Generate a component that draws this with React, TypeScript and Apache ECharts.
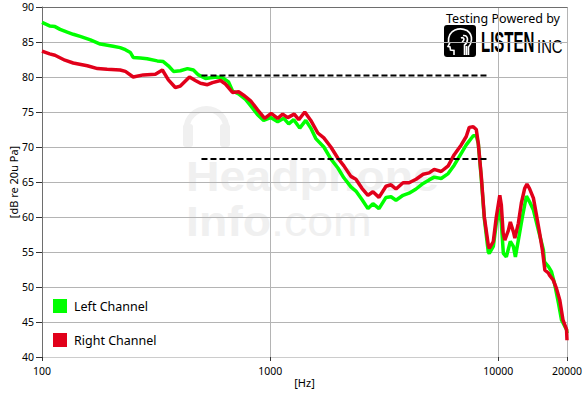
import React, { useEffect, useRef } from "react";
import * as echarts from "echarts";

// ---- data (Hz, dB) ----
const leftFreq = [100, 108, 114, 120, 129, 137, 147, 163, 180, 205, 220, 232, 244, 251, 270, 289, 320, 340, 358, 377, 404, 434, 461, 485, 521, 548, 582, 618, 657, 684, 727, 780, 821, 881, 936, 1005, 1079, 1147, 1206, 1269, 1348, 1432, 1507, 1585, 1719, 1845, 1981, 2104, 2259, 2376, 2525, 2683, 2822, 2999, 3219, 3386, 3561, 3823, 4062, 4361, 4682, 4975, 5233, 5617, 6030, 6407, 6878, 7235, 7766, 8006, 8170, 8422, 8682, 9036, 9128, 9507, 9800, 10080, 10310, 10520, 10840, 11290, 11640, 11880, 12240, 12750, 13280, 13690, 14250, 14990, 15760, 15930, 16590, 17100, 17630, 18350, 18920, 19910, 20000];
const leftDb = [87.8, 87.3, 87.2, 86.8, 86.4, 86.1, 85.8, 85.3, 84.7, 84.4, 84.2, 83.9, 83.5, 82.8, 82.7, 82.6, 82.3, 82.2, 81.6, 80.8, 80.9, 81.2, 81.0, 80.3, 79.8, 79.9, 80.0, 79.9, 79.3, 78.0, 77.6, 76.8, 75.9, 74.6, 73.8, 74.2, 73.6, 74.1, 73.3, 73.9, 72.7, 73.8, 72.7, 71.2, 70.0, 68.3, 67.0, 65.6, 64.3, 63.7, 62.5, 61.2, 61.9, 61.2, 62.8, 62.9, 62.4, 63.1, 63.4, 64.0, 64.8, 65.3, 65.7, 65.5, 66.2, 67.4, 69.1, 70.3, 71.6, 71.6, 70.5, 65.5, 59.8, 55.0, 54.8, 55.8, 59.1, 61.2, 59.1, 54.8, 54.3, 56.5, 55.8, 54.3, 56.7, 60.0, 63.0, 62.2, 61.0, 58.1, 55.3, 53.6, 52.9, 52.2, 50.5, 47.7, 45.3, 43.9, 43.4];

const rightFreq = [100, 108, 114, 126, 137, 158, 175, 193, 220, 232, 251, 278, 314, 337, 358, 384, 404, 443, 470, 495, 531, 559, 606, 637, 684, 727, 765, 821, 881, 946, 1010, 1079, 1135, 1194, 1275, 1335, 1418, 1507, 1618, 1719, 1845, 1981, 2104, 2259, 2376, 2525, 2683, 2822, 2999, 3219, 3386, 3561, 3823, 4062, 4361, 4682, 4975, 5233, 5617, 6030, 6407, 6878, 7235, 7458, 7766, 8006, 8170, 8422, 8682, 9036, 9128, 9507, 9800, 10150, 10310, 10500, 10680, 11070, 11290, 11640, 11820, 12240, 12620, 13050, 13350, 13690, 14250, 14690, 15100, 15600, 16000, 16570, 16760, 17400, 17980, 18600, 19200, 19910, 20000];
const rightDb = [83.7, 83.3, 83.1, 82.4, 82.0, 81.6, 81.2, 81.1, 81.0, 80.8, 80.0, 80.3, 80.4, 81.0, 79.6, 78.5, 78.7, 80.0, 79.5, 79.1, 78.9, 79.2, 79.5, 79.0, 77.8, 77.9, 77.4, 76.6, 75.3, 74.1, 74.8, 74.1, 74.7, 74.2, 74.7, 73.9, 75.0, 73.8, 72.0, 71.3, 70.0, 68.4, 67.3, 65.8, 65.4, 64.1, 63.1, 63.6, 62.8, 64.4, 64.6, 64.0, 64.9, 64.9, 65.4, 66.1, 66.3, 66.8, 66.5, 67.3, 68.9, 70.3, 71.5, 72.8, 72.9, 72.5, 70.5, 65.8, 60.0, 56.0, 55.5, 56.5, 60.0, 63.1, 61.7, 57.7, 56.7, 58.1, 59.3, 57.9, 57.0, 59.1, 62.0, 64.1, 64.7, 64.1, 62.7, 60.3, 58.1, 55.3, 52.4, 52.0, 51.7, 51.0, 49.8, 48.1, 45.3, 43.9, 42.4];

const refFreq = [500, 9000];
const refUpperDb = 80.2;
const refLowerDb = 68.3;

const seriesNames = ["Left Channel", "Right Channel"];
const seriesColors = ["#00ff00", "#e1001a"];

const yMin = 40;
const yMax = 90;
const yInterval = 5;
const xMin = 100;
const xMax = 20000;

const headPath =
  "M10 30 L10 25.5 L6.5 25 L6 22 L4 21.5 L5.5 18.5 L4.5 17 Q4 8 11 5 Q17 2.5 23 5.5 Q28 9 27.5 15 Q27 19 24.5 22 L24.5 30 M19 10.5 Q23 10 23.5 14 Q23.5 18 20.5 20 L20.5 30 M22.5 21 L22.5 30 M17 13 Q19 12 20 14 Q20 16 18 17";

let registered = false;
function registerShapes() {
  if (registered) return;
  registered = true;
  echarts.graphic.registerShape("listenHead", echarts.graphic.extendPath(headPath, {}) as any);
}

const zip = (xs: number[], ys: number[]) => xs.map((x, i) => [x, ys[i]]);

export default function App() {
  const ref = useRef<HTMLDivElement>(null);
  useEffect(() => {
    if (!ref.current) return;
    registerShapes();
    const chart = echarts.init(ref.current, undefined, { renderer: "svg" });
    const font = "Noto Sans";
    const wm = "#f0f0f0";
    chart.setOption({
      animation: false,
      backgroundColor: "#ffffff",
      textStyle: { fontFamily: font },
      grid: { left: 42, right: 16, top: 7, bottom: 38, containLabel: false, outerBoundsMode: "none" },
      legend: {
        data: seriesNames,
        orient: "vertical",
        left: 53,
        top: 299,
        padding: 0,
        itemWidth: 14,
        itemHeight: 14,
        itemGap: 20,
        icon: "rect",
        textStyle: { fontSize: 12.5, color: "#000", fontFamily: font, padding: [0, 0, 0, 2] },
      },
      xAxis: [
        {
          type: "log",
          logBase: 10,
          min: xMin,
          max: xMax,
          name: "[Hz]",
          nameLocation: "middle",
          nameGap: 20,
          nameMoveOverlap: false,
          nameTextStyle: { fontSize: 11, color: "#000", fontFamily: font },
          axisLine: { lineStyle: { color: "#cccccc", width: 1 } },
          axisTick: { show: true, length: 4, lineStyle: { color: "#333" } },
          minorTick: { show: false },
          axisLabel: {
            fontSize: 10.5,
            color: "#000",
            margin: 8,
            formatter: (v: number) => String(Math.round(v)),
          },
          splitLine: { show: true, lineStyle: { color: "#b4b4b4", width: 1 } },
        },
        {
          type: "log",
          logBase: 10,
          min: xMin,
          max: xMax,
          position: "top",
          axisLine: { show: true, lineStyle: { color: "#6e6e6e", width: 1 } },
          axisTick: { show: false },
          axisLabel: { show: false },
          splitLine: { show: false },
        },
      ],
      yAxis: {
        type: "value",
        min: yMin,
        max: yMax,
        interval: yInterval,
        name: "[dB re 20u Pa]",
        nameLocation: "middle",
        nameGap: 23,
        nameMoveOverlap: false,
        nameRotate: 90,
        nameTextStyle: { fontSize: 11, color: "#000", fontFamily: font },
        axisLine: { show: true, lineStyle: { color: "#6e6e6e", width: 1 } },
        axisTick: { show: true, length: 6, lineStyle: { color: "#333" } },
        axisLabel: { fontSize: 10.5, color: "#000", margin: 8 },
        splitLine: { show: true, lineStyle: { color: "#b4b4b4", width: 1 } },
      },
      graphic: [
        // watermark
        {
          type: "arc",
          z: -10,
          shape: { cx: 206.5, cy: 129, r: 20, startAngle: Math.PI, endAngle: Math.PI * 2 },
          style: { stroke: wm, lineWidth: 6, fill: "none" },
        },
        { type: "rect", z: -10, shape: { x: 183, y: 124, width: 10, height: 23, r: 3 }, style: { fill: wm } },
        { type: "rect", z: -10, shape: { x: 220, y: 124, width: 10, height: 23, r: 3 }, style: { fill: wm } },
        {
          type: "text",
          z: -10,
          x: 186,
          y: 153,
          scaleX: 1.08,
          style: {
            text: "{b|Headphone}\n{b|Info}{r|.com}",
            fill: wm,
            verticalAlign: "top",
            rich: {
              b: { font: "bold 43px 'Liberation Sans'", fill: wm, lineHeight: 45 },
              r: { font: "43px 'Liberation Sans'", fill: wm, lineHeight: 45 },
            },
          },
        },
        // logo
        {
          type: "text",
          x: 446,
          y: 18,
          style: { text: "Testing Powered by", font: "12.5px 'Noto Sans'", fill: "#000", verticalAlign: "middle" },
        },
        { type: "rect", shape: { x: 444, y: 25, width: 32, height: 32, r: 3 }, style: { fill: "#000" } },
        {
          type: "listenHead",
          x: 444,
          y: 25,
          style: { stroke: "#fff", fill: "none", lineWidth: 1.6 },
        },
        {
          type: "text",
          x: 481,
          y: 42,
          scaleX: 0.5,
          style: { text: "LISTEN", font: "bold 30px 'Liberation Sans'", fill: "#000", verticalAlign: "middle" },
        },
        {
          type: "text",
          x: 537,
          y: 46.5,
          scaleX: 0.85,
          style: { text: "INC", font: "17.5px 'Liberation Sans'", fill: "#000", verticalAlign: "middle" },
        },
      ],
      series: [
        {
          name: seriesNames[0],
          type: "line",
          data: zip(leftFreq, leftDb),
          symbol: "none",
          color: seriesColors[0],
          lineStyle: { width: 3.5, color: seriesColors[0] },
          itemStyle: { color: seriesColors[0] },
          z: 3,
        },
        {
          name: seriesNames[1],
          type: "line",
          data: zip(rightFreq, rightDb),
          symbol: "none",
          color: seriesColors[1],
          lineStyle: { width: 3.5, color: seriesColors[1] },
          itemStyle: { color: seriesColors[1] },
          z: 4,
        },
        {
          name: "upper",
          type: "line",
          data: refFreq.map((f) => [f, refUpperDb]),
          symbol: "none",
          lineStyle: { width: 2, color: "#000", type: [6, 3] },
          z: 5,
        },
        {
          name: "lower",
          type: "line",
          data: refFreq.map((f) => [f, refLowerDb]),
          symbol: "none",
          lineStyle: { width: 2, color: "#000", type: [6, 3] },
          z: 5,
        },
      ],
    });
    return () => chart.dispose();
  }, []);
  return (
    <div
      ref={ref}
      style={{ position: "fixed", left: 0, top: 0, width: 583, height: 395, background: "#fff" }}
    />
  );
}
